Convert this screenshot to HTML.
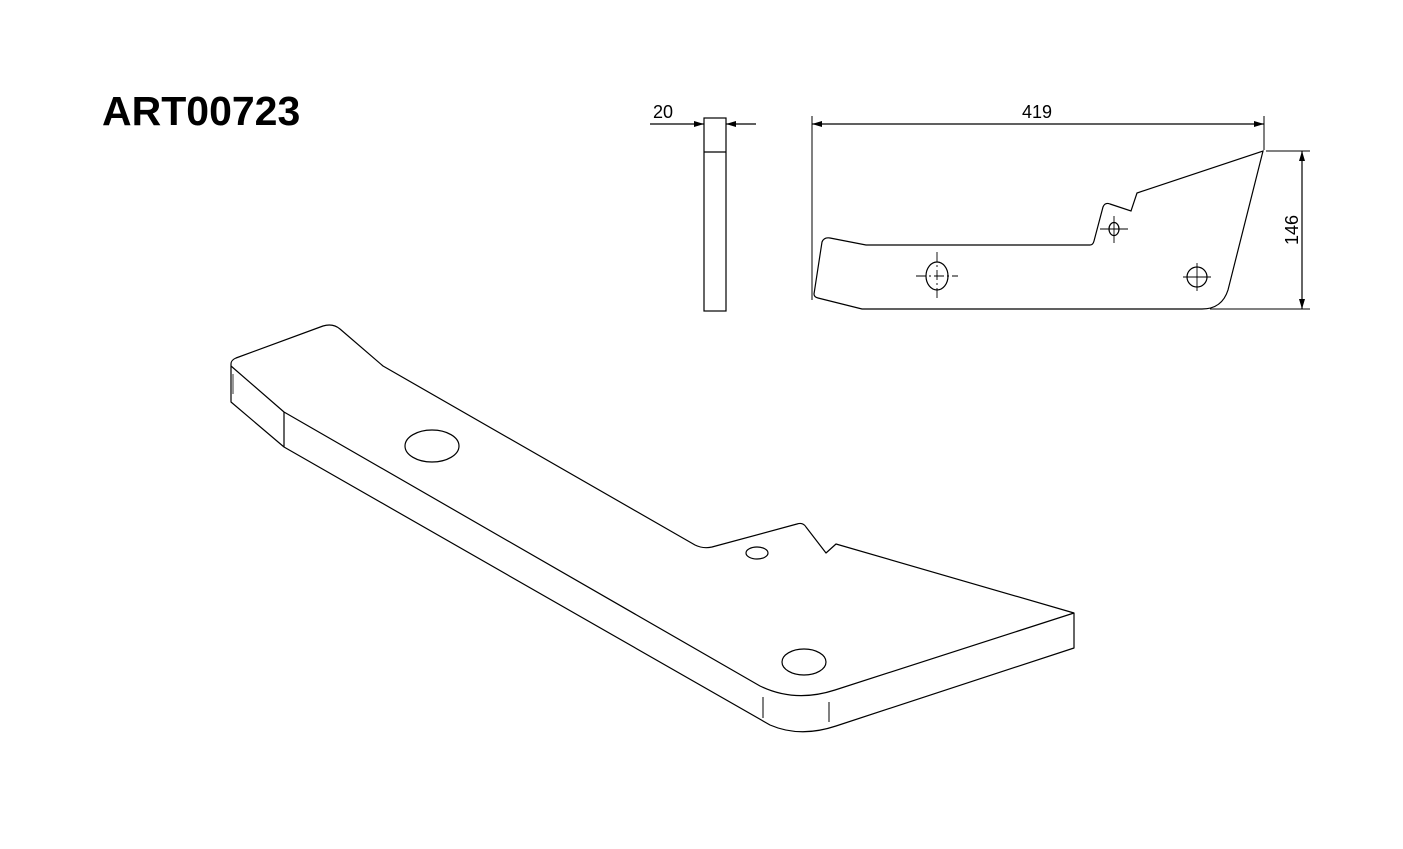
<!DOCTYPE html>
<html><head><meta charset="utf-8"><style>
html,body{margin:0;padding:0;background:#fff;}
svg{display:block;}
</style></head><body>
<svg width="1403" height="849" viewBox="0 0 1403 849" xmlns="http://www.w3.org/2000/svg">
<defs>
<marker id="a" viewBox="0 0 10 6" refX="10" refY="3" markerWidth="10" markerHeight="6" orient="auto-start-reverse" markerUnits="userSpaceOnUse"><path d="M0,0 L10,3 L0,6 z" fill="#000"/></marker>
</defs>
<text x="102" y="125" font-family="Liberation Sans, sans-serif" font-weight="bold" font-size="41">ART00723</text>
<g fill="none" stroke="#000" stroke-width="1.2">
<rect x="704" y="118" width="22" height="193"/>
<line x1="704" y1="152" x2="726" y2="152"/>
<line x1="650" y1="124" x2="704" y2="124" marker-end="url(#a)"/>
<line x1="756" y1="124" x2="726" y2="124" marker-end="url(#a)"/>
<line x1="812" y1="116" x2="812" y2="300" stroke-width="1"/>
<line x1="1264" y1="116" x2="1264" y2="150" stroke-width="1"/>
<line x1="812" y1="124" x2="1264" y2="124" marker-start="url(#a)" marker-end="url(#a)"/>
<line x1="1266" y1="151" x2="1310" y2="151" stroke-width="1"/>
<line x1="1210" y1="309" x2="1310" y2="309" stroke-width="1"/>
<line x1="1302" y1="151" x2="1302" y2="309" marker-start="url(#a)" marker-end="url(#a)"/>
<path d="M814,294 L822,242 Q824,237 830,238 L866,245 L1090,245 Q1093,245 1094,241 L1103,207 Q1105,202 1110,204 L1131,211 L1137,193 L1263,151 L1228,290 Q1222,309 1202,309 L862,309 L818,298 Q814,297 814,294 Z"/>
<ellipse cx="937" cy="276" rx="11" ry="14"/>
<circle cx="1197" cy="277" r="10"/>
<ellipse cx="1114" cy="229" rx="5" ry="6.5"/>
</g>
<g stroke="#000" stroke-width="0.9" fill="none">
<line x1="916" y1="276" x2="958" y2="276" stroke-dasharray="10,3,2,3"/>
<line x1="937" y1="252" x2="937" y2="300" stroke-dasharray="10,3,2,3"/>
<line x1="1183" y1="277" x2="1211" y2="277"/>
<line x1="1197" y1="263" x2="1197" y2="291"/>
<line x1="1100" y1="229" x2="1128" y2="229"/>
<line x1="1114" y1="216" x2="1114" y2="243"/>
</g>
<g font-family="Liberation Sans, sans-serif" font-size="18" fill="#000">
<text x="653" y="118">20</text>
<text x="1037" y="118" text-anchor="middle">419</text>
<text transform="translate(1298,230) rotate(-90)" text-anchor="middle">146</text>
</g>
<g fill="none" stroke="#000" stroke-width="1.2" stroke-linejoin="round">
<path d="M231,402 L231,364 Q231,360 236,358 L323,326 Q333,323 340,329 L383,366 L695,545 Q703,549 712,547 L797,524 Q803,522 806,527 L826,553 L836,544 L1074,613 L1074,648 L836,726 Q800,738 770,725 L284,447 Z"/>
<path d="M231,366 L284,412 L760,686 Q795,703 835,690 L1074,613"/>
<line x1="284" y1="412" x2="284" y2="447"/>
<line x1="763" y1="697" x2="763" y2="718" stroke-width="1"/>
<line x1="829" y1="702" x2="829" y2="722" stroke-width="1"/>
<line x1="233" y1="374" x2="233" y2="394" stroke-width="0.8"/>
<ellipse cx="432" cy="446" rx="27" ry="16"/>
<ellipse cx="757" cy="553" rx="11" ry="6"/>
<ellipse cx="804" cy="662" rx="22" ry="13"/>
</g>
</svg>
</body></html>
